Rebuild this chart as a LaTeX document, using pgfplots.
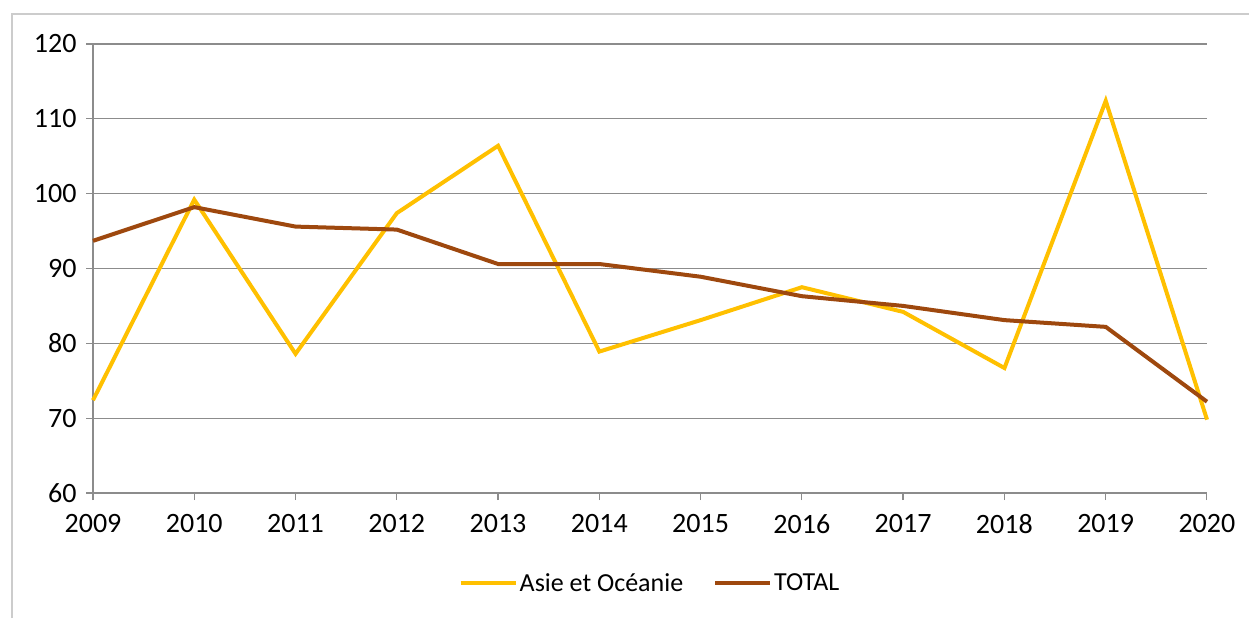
\documentclass[border=0pt]{standalone}
\usepackage{pgfplots}
\pgfplotsset{compat=1.18}
\usepackage{fontspec}
\setmainfont{Carlito}
\definecolor{asie}{HTML}{FFC000}
\definecolor{total}{HTML}{9E480E}
\definecolor{gridc}{HTML}{8C8C8C}
\begin{document}
\begin{tikzpicture}[x=1pt,y=1pt]
\useasboundingbox (0,0) rectangle (1249,618);
\draw[gray!40, line width=1.5pt] (12,0) -- (12,604) -- (1249,604);
\begin{axis}[
  at={(93pt,125pt)}, anchor=south west,
  scale only axis, width=1114pt, height=449pt,
  xmin=2009, xmax=2020, ymin=60, ymax=120,
  xtick={2009,...,2020}, ytick={60,70,...,120},
  axis x line=bottom, axis y line=left,
  axis line style={-, gridc, line width=1.2pt},
  ymajorgrids, grid style={gridc, line width=1.2pt},
  tick style={gridc, line width=1.2pt},
  major tick length=7pt,
  xtick align=outside, ytick align=outside,
  xticklabel style={/pgf/number format/1000 sep={}, font=\fontsize{28}{32}\selectfont, yshift=-11pt},
  yticklabel style={font=\fontsize{28}{32}\selectfont, xshift=-6pt},
  /pgf/number format/assume math mode=true,
  legend style={at={(0.5,-0.17)}, anchor=north, draw=none, fill=none,
    legend columns=2, font=\fontsize{26}{30}\selectfont,
    /tikz/every even column/.append style={column sep=28pt}},
  legend image code/.code={\draw[#1, line width=4pt] (0pt,0pt) -- (55pt,0pt);},
  clip=false,
]
\addplot[asie, line width=4pt] coordinates {
 (2009,72.4) (2010,99.2) (2011,78.6) (2012,97.4) (2013,106.4) (2014,78.9)
 (2015,83.1) (2016,87.5) (2017,84.2) (2018,76.7) (2019,112.4) (2020,69.8)};
\addlegendentry{Asie et Océanie}
\addplot[total, line width=4pt] coordinates {
 (2009,93.7) (2010,98.2) (2011,95.6) (2012,95.2) (2013,90.6) (2014,90.6)
 (2015,88.9) (2016,86.3) (2017,85.0) (2018,83.1) (2019,82.2) (2020,72.2)};
\addlegendentry{TOTAL}
\end{axis}
\end{tikzpicture}
\end{document}
